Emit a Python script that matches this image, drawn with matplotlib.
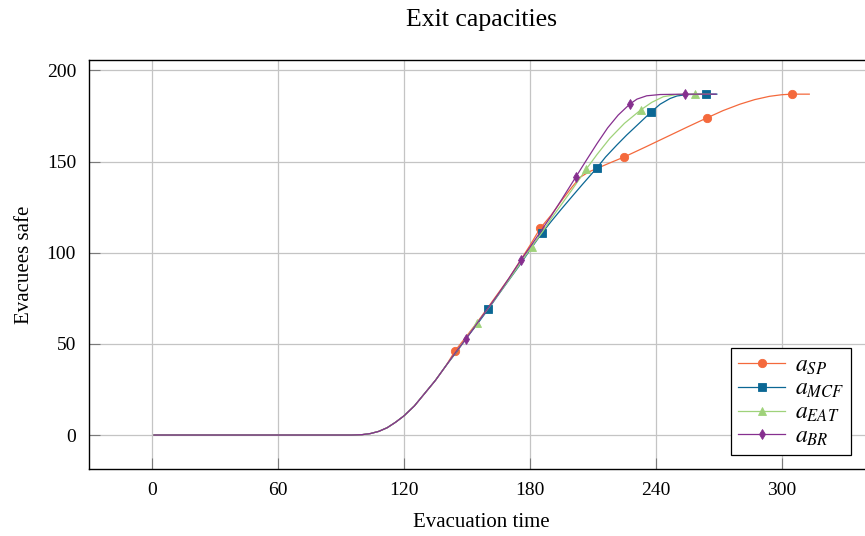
import matplotlib
matplotlib.use("Agg")
import matplotlib.pyplot as plt

# ---- data ----
base_t = [1, 95, 100, 104, 108, 112, 116, 120, 125, 130, 135, 140]
base_y = [0, 0, 0.2, 0.8, 2.0, 4.0, 7.0, 10.5, 16, 23, 30, 38]

sp_t = base_t + [144.3, 150, 155, 160, 165, 170, 175, 180, 184.8, 190, 195, 200, 204, 208, 212, 218.5, 224.8,
                 235, 245, 255, 264.3, 272, 280, 287, 294, 300, 304.8, 313]
sp_y = base_y + [46.1, 54.5, 62, 70, 78, 86, 95, 104, 113.3, 120.5, 128.5, 136, 141.5, 144.3, 146.3, 149.5, 152.5,
                 158, 163.5, 169, 174, 178, 181.5, 184, 185.8, 186.7, 187, 187]
sp_marks = [144.3, 184.8, 224.8, 264.3, 304.8]

mcf_t = base_t + [145, 150, 155, 160.2, 165, 170, 175, 180, 185.6, 190, 195, 200.6, 205, 211.7, 216, 221.3, 226,
                  232, 237.5, 242, 246.7, 250, 255, 263.8, 269]
mcf_y = base_y + [45.5, 53.5, 61, 69.1, 77, 85, 93, 101.5, 110.6, 117, 124, 131.6, 137.5, 146.3, 152.5, 159, 164.5,
                  171, 177, 181.5, 184.6, 186, 186.8, 187, 187]
mcf_marks = [160.2, 185.6, 211.7, 237.5, 263.8]

eat_t = base_t + [145, 150, 154.8, 160, 165, 170, 175, 180.8, 186, 190, 195, 200, 206.7, 212, 218, 225, 232.7,
                  238, 243.5, 250, 258.7, 266]
eat_y = base_y + [45.8, 53.8, 61.4, 69.3, 77.2, 85.2, 93.5, 103.3, 111.5, 118.5, 126.5, 134.5, 145.7, 154, 162.7,
                  171, 178.3, 182.5, 185.6, 186.8, 187, 187]
eat_marks = [154.8, 180.8, 206.7, 232.7, 258.7]

br_t = base_t + [145, 149.5, 155, 160, 165, 170, 175.7, 180, 185, 190, 195, 201.7, 207, 212, 217, 222, 227.6,
                 231, 235.6, 242, 253.8, 268.6]
br_y = base_y + [46, 52.7, 61.5, 69.5, 77.5, 86, 96, 103, 111.5, 120, 129, 141.3, 151, 160, 168.5, 175.5, 181.6,
                 184.3, 186.1, 186.8, 187, 187]
br_marks = [149.5, 175.7, 201.7, 227.6, 253.8]

labels = [r"$a_{SP}$", r"$a_{MCF}$", r"$a_{EAT}$", r"$a_{BR}$"]
x_ticks = [0, 60, 120, 180, 240, 300]
y_ticks = [0, 50, 100, 150, 200]

# ---- style ----
plt.rcParams["font.family"] = ["Liberation Serif", "DejaVu Serif"]
plt.rcParams["mathtext.fontset"] = "stix"

fig = plt.figure(figsize=(8.65, 5.36), dpi=100)
ax = fig.add_axes([88.5 / 865, (536 - 469.3) / 536, (875 - 88.5) / 865, (469.3 - 59.7) / 536])

series = [
    (sp_t, sp_y, sp_marks, "#f4693c", "o", 6.0),
    (mcf_t, mcf_y, mcf_marks, "#0b6794", "s", 6.0),
    (eat_t, eat_y, eat_marks, "#9fd27a", "^", 5.5),
    (br_t, br_y, br_marks, "#862f8f", "d", 5.0),
]
for (t, y, marks, c, m, ms), lab in zip(series, labels):
    idx = [t.index(v) for v in marks]
    ax.plot(t, y, color=c, lw=0.9, marker=m, markersize=ms, markevery=idx,
            markeredgewidth=0.6, markeredgecolor=c, label=lab, zorder=3)

ax.set_xlim(-30.2, 344.3)
ax.set_ylim(-18.8, 205.9)
ax.set_xticks(x_ticks)
ax.set_yticks(y_ticks)
ax.grid(True, color="#c4c4c4", lw=0.9)
ax.set_axisbelow(True)
ax.tick_params(direction="in", length=8, width=0.8, color="#7a7a7a", labelsize=14, pad=9)
for s in ax.spines.values():
    s.set_linewidth(1.0)
    s.set_color("black")

ax.set_title("Exit capacities", fontsize=18.5, pad=24)
ax.set_xlabel("Evacuation time", fontsize=15, labelpad=10)
ax.set_ylabel("Evacuees safe", fontsize=15, labelpad=9)

leg = ax.legend(loc="lower right", bbox_to_anchor=(851 / 865, (536 - 455) / 536),
                bbox_transform=fig.transFigure, fontsize=17, frameon=True, fancybox=False,
                edgecolor="black", framealpha=1, handlelength=2.0, borderpad=0.3,
                labelspacing=0.08, handletextpad=0.4, borderaxespad=0)
leg.get_frame().set_linewidth(0.9)

fig.savefig("out.png", dpi=100)
